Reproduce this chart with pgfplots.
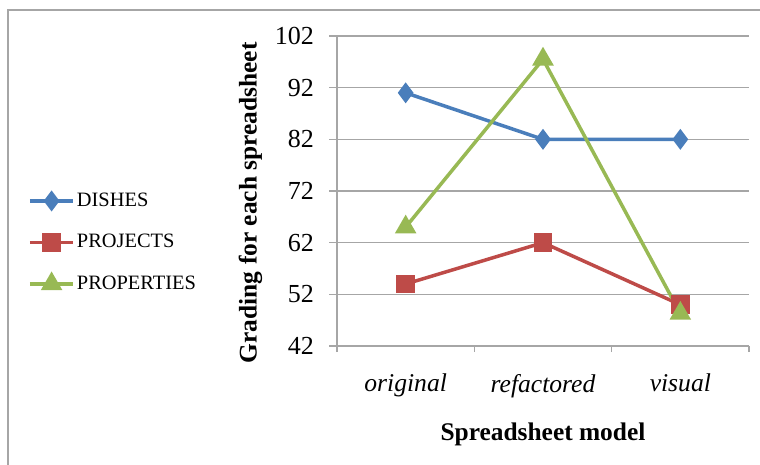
\documentclass[border=0pt]{standalone}
\usepackage{pgfplots}
\pgfplotsset{compat=1.18}
\usepackage{fontspec}
\setmainfont{Liberation Serif}
\definecolor{cblue}{HTML}{4A7EBB}
\definecolor{cred}{HTML}{BE4B48}
\definecolor{cgreen}{HTML}{98B954}
\definecolor{gridgray}{HTML}{A6A6A6}
\begin{document}
\begin{tikzpicture}
\useasboundingbox (0,0) rectangle (380pt,-232.5pt);
\draw[gridgray, line width=1pt] (4pt,-232.5pt) -- (4pt,-5pt) -- (380pt,-5pt);
\begin{axis}[
  at={(168.5pt,-173pt)}, anchor=south west,
  scale only axis, width=206pt, height=155pt,
  xmin=0, xmax=3, ymin=42, ymax=102,
  ytick={42,52,...,102},
  xtick={0.5,1.5,2.5}, xticklabels={original,refactored,visual},
  minor xtick={0,1,2,3},
  major x tick style={draw=none},
  axis x line*=bottom, axis y line*=left,
  axis line style={-, draw=gridgray, line width=0.75pt},
  tick style={draw=gridgray, line width=0.75pt},
  tick align=outside,
  major tick length=4pt, minor tick length=3pt,
  ymajorgrids, grid style={gridgray, line width=0.75pt},
  /pgf/number format/assume math mode=true,
  tick label style={font=\fontsize{13}{15}\selectfont},
  xticklabel style={font=\fontsize{12.8}{15}\selectfont\itshape, yshift=-6.5pt},
  yticklabel style={xshift=-4pt},
  xlabel={\textbf{Spreadsheet model}},
  ylabel={\textbf{Grading for each spreadsheet}},
  label style={font=\fontsize{12.7}{15}\selectfont},
  xlabel style={at={(axis description cs:0.5,-0.286)}, anchor=center},
  ylabel style={at={(axis description cs:-0.21,0.462)}, anchor=center},
  legend style={at={(axis description cs:-0.765,0.334)}, anchor=west, draw=none, fill=none,
    font=\fontsize{10.2}{12}\selectfont, row sep=8.5pt, nodes={inner xsep=1pt}},
  legend cell align=left,
  legend image code/.code={\draw[#1, mark repeat=2, mark phase=2] plot coordinates {(0cm,0cm)(0.38cm,0cm)(0.76cm,0cm)};},
]
\addplot[cblue, line width=1.75pt, mark=diamond*, mark size=3.8pt, mark options={solid}] coordinates {(0.5,91) (1.5,82) (2.5,82)};
\addlegendentry{DISHES}
\addplot[cred, line width=1.75pt, mark=square*, mark size=3.8pt] coordinates {(0.5,54) (1.5,62) (2.5,50)};
\addlegendentry{PROJECTS}
\addplot[cgreen, line width=1.75pt, mark=triangle*, mark size=4.5pt] coordinates {(0.5,65) (1.5,97.5) (2.5,48.3)};
\addlegendentry{PROPERTIES}
\end{axis}
\end{tikzpicture}
\end{document}
